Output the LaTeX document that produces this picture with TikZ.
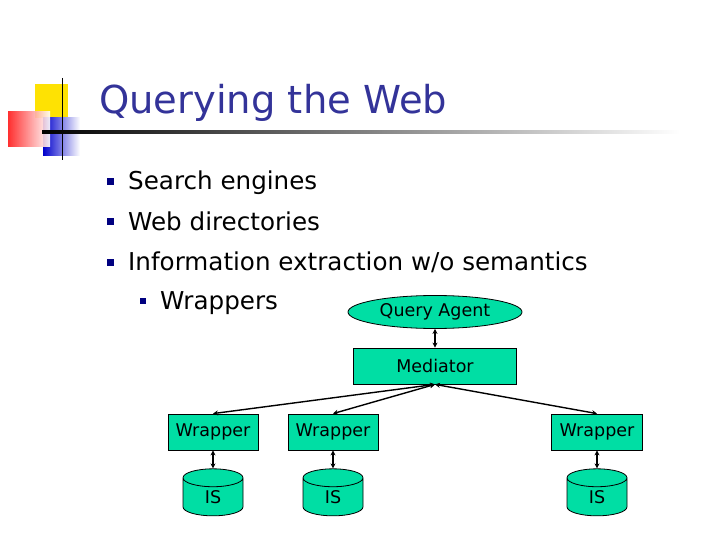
\documentclass[tikz,border=0pt]{standalone}
\usepackage{fontspec}
\setmainfont{DejaVu Sans}
\usetikzlibrary{shapes.geometric,arrows.meta}
\definecolor{sea}{RGB}{0,222,164}
\definecolor{ttl}{RGB}{51,51,153}
\definecolor{bul}{RGB}{0,0,128}
\begin{document}
\begin{tikzpicture}[x=1pt,y=-1pt,
 box/.style={draw,line width=0.8pt,fill=sea,minimum height=36pt,inner sep=0pt,font=\fontsize{17.5}{20}\selectfont},
 cyl/.style={cylinder,shape border rotate=90,draw,line width=0.8pt,fill=sea,minimum width=60pt,minimum height=47pt,aspect=1.1,inner sep=0pt,font=\fontsize{17.5}{20}\selectfont},
 lnk/.style={{Stealth[length=5pt,width=5pt]}-{Stealth[length=5pt,width=5pt]},line width=1.4pt},
 bl/.style={fill=bul,inner sep=0pt},
 txt/.style={anchor=base west,inner sep=0pt,font=\fontsize{24.6}{28}\selectfont}]
\useasboundingbox (0,0) rectangle (720,540);
% logo
\fill[yellow!85!orange] (35,84) rectangle (68,118);
\shade[left color=blue!80!black,right color=white] (43,118) rectangle (80,156);
\shade[left color=red!90,right color=white,opacity=0.9] (8,112) rectangle (50,147);
\draw[thick] (62,78) -- (62,160);
\shade[left color=black,right color=white] (42,131) rectangle (680,134);
\node[anchor=base west,inner sep=0pt,text=ttl,font=\fontsize{38.5}{44}\selectfont] (title) at (99,114) {Querying the Web};
% bullets
\node[bl,minimum size=7pt] (b1) at (110,182) {};
\node[txt] (t1) at (128,190) {Search engines};
\node[bl,minimum size=7pt] (b2) at (110,222) {};
\node[txt] (t2) at (128,230) {Web directories};
\node[bl,minimum size=7pt] (b3) at (110,262) {};
\node[txt] (t3) at (128,270) {Information extraction w/o semantics};
\node[bl,minimum size=6pt] (b4) at (143,301) {};
\node[txt] (t4) at (160,309) {Wrappers};
% diagram
\node[ellipse,draw,line width=0.8pt,fill=sea,minimum width=174pt,minimum height=33pt,inner sep=0pt,font=\fontsize{17.5}{20}\selectfont] (qa) at (435,312) {Query Agent};
\node[box,minimum width=163pt] (med) at (435,366) {Mediator};
\node[box,minimum width=90pt] (w1) at (213,432) {Wrapper};
\node[box,minimum width=90pt] (w2) at (333,432) {Wrapper};
\node[box,minimum width=91pt] (w3) at (597,432) {Wrapper};
\node[cyl] (i1) at (213,497) {IS};
\node[cyl] (i2) at (333,497) {IS};
\node[cyl] (i3) at (597,497) {IS};
\draw[lnk] (qa) -- (med);
\draw[lnk] (med.south) -- (w1.north);
\draw[lnk] (med.south) -- (w2.north);
\draw[lnk] (med.south) -- (w3.north);
\draw[lnk] (w1) -- (i1.top);
\draw[lnk] (w2) -- (i2.top);
\draw[lnk] (w3) -- (i3.top);
\end{tikzpicture}
\end{document}
